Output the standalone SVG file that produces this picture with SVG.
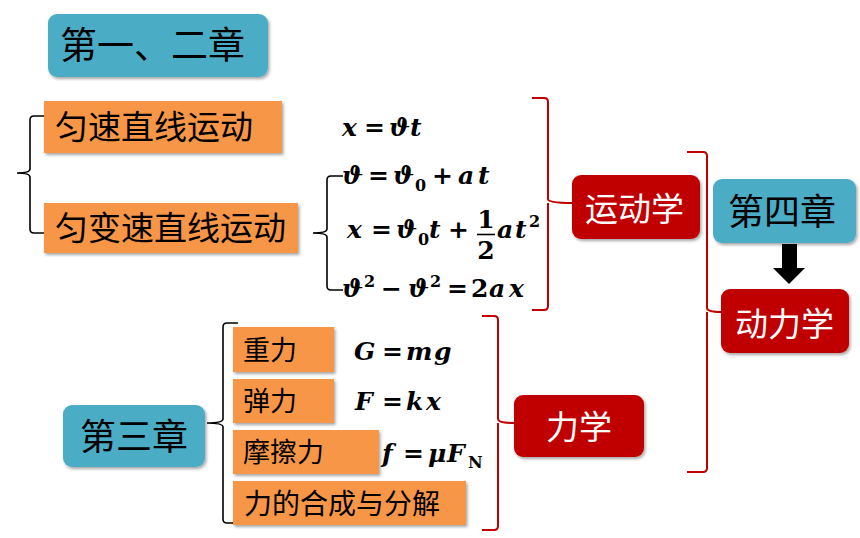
<svg xmlns="http://www.w3.org/2000/svg" width="860" height="538" viewBox="0 0 860 538">
<defs>
<filter id="sh" x="-10%" y="-10%" width="130%" height="140%">
<feDropShadow dx="1.5" dy="2" stdDeviation="1.8" flood-color="#000" flood-opacity="0.35"/>
</filter>
</defs>
<style>
.teal{fill:#4BACC6;filter:url(#sh)}
.org{fill:#F79646;filter:url(#sh)}
.red{fill:#C00000;filter:url(#sh)}
.cjk{font-family:"Noto Sans CJK SC","Noto Sans CJK JP",sans-serif;fill:#000}
.w{fill:#fff}
.m{font-family:"DejaVu Serif","Liberation Serif",serif;font-weight:bold;font-style:italic;font-size:25px;fill:#000}
.d{font-style:normal}
.s{font-size:16px;font-style:normal}
.bk{fill:none;stroke:#000;stroke-width:1.6}
.br{fill:none;stroke:#C00000;stroke-width:2}
</style>
<rect width="860" height="538" fill="#fff"/>

<g id="connectors">
<path class="bk" d="M44,116 H34 Q30,116 30,120 V169 Q30,173 17,173 Q30,173 30,177 V229 Q30,233 34,233 H44"/>
<path class="bk" d="M343,176 H331 Q327,176 327,180 V229 Q327,233 313,233 Q327,233 327,237 V286 Q327,290 331,290 H343"/>
<path class="br" d="M532,98 H544 Q548,98 548,102 V199 Q548,203 572,203 M548,203 Q548,203 548,207 V306 Q548,310 544,310 H532"/>
<path class="br" d="M687,152 H703 Q707,152 707,156 V308 Q707,312 721,312 M707,312 V468 Q707,472 703,472 H687"/>
<path class="br" d="M482,316 H494 Q498,316 498,320 V419 Q498,423 514,423 M498,423 V526 Q498,530 494,530 H482"/>
<path class="bk" d="M238,323 H227 Q223,323 223,327 V419 Q223,423 207,423 Q223,423 223,427 V519 Q223,523 227,523 H238"/>
<polygon points="782,244 797,244 797,268 805,268 789,284 773,268 782,268" fill="#000"/>
</g>

<g id="ch12">
<rect class="teal" x="48" y="14" width="220" height="63" rx="9"/>
<text class="cjk" x="60" y="59" font-size="37">第一、二章</text>
</g>
<g id="uniform">
<rect class="org" x="44" y="101" width="238" height="52"/>
<text class="cjk" x="55" y="138.5" font-size="33">匀速直线运动</text>
</g>
<g id="accel">
<rect class="org" x="44" y="203" width="254" height="50"/>
<text class="cjk" x="55" y="240" font-size="33">匀变速直线运动</text>
</g>

<g id="f1">
<text class="m" y="136"><tspan x="342">x</tspan><tspan x="364">=</tspan><tspan x="389">ϑ</tspan><tspan x="410">t</tspan></text>
</g>
<g id="f2">
<text class="m" y="184"><tspan x="342">ϑ</tspan><tspan x="368">=</tspan><tspan x="393">ϑ</tspan><tspan class="s" x="415" y="191">0</tspan><tspan x="432" y="184">+</tspan><tspan x="458">a</tspan><tspan x="478">t</tspan></text>
</g>
<g id="f3">
<text class="m" y="238"><tspan x="347">x</tspan><tspan x="371">=</tspan><tspan x="396">ϑ</tspan><tspan class="s" x="418" y="245">0</tspan><tspan x="429" y="238">t</tspan><tspan x="448">+</tspan></text>
<text class="m d" x="486" y="228" font-size="22" text-anchor="middle">1</text>
<line x1="477" y1="234.5" x2="495" y2="234.5" stroke="#000" stroke-width="1.6"/>
<text class="m d" x="486" y="259" font-size="22" text-anchor="middle">2</text>
<text class="m" y="238"><tspan x="497">a</tspan><tspan x="515">t</tspan><tspan class="s" x="529" y="227">2</tspan></text>
</g>
<g id="f4">
<text class="m" y="297"><tspan x="342">ϑ</tspan><tspan class="s" x="364" y="287">2</tspan><tspan x="381" y="297">−</tspan><tspan x="408">ϑ</tspan><tspan class="s" x="430" y="287">2</tspan><tspan x="447" y="297">=</tspan><tspan class="d" x="471">2</tspan><tspan x="489">a</tspan><tspan x="509">x</tspan></text>
</g>

<g id="kinematics">
<rect class="red" x="572" y="175" width="128" height="64" rx="9"/>
<text class="cjk w" x="585" y="221" font-size="33">运动学</text>
</g>
<g id="ch4">
<rect class="teal" x="713" y="179" width="143" height="64" rx="9"/>
<text class="cjk" x="728" y="225" font-size="36">第四章</text>
</g>
<g id="dynamics">
<rect class="red" x="721" y="289" width="128" height="64" rx="9"/>
<text class="cjk w" x="735" y="335.5" font-size="33">动力学</text>
</g>
<g id="mechanics">
<rect class="red" x="514" y="395" width="130" height="62" rx="9"/>
<text class="cjk w" x="546" y="439" font-size="33">力学</text>
</g>

<g id="ch3">
<rect class="teal" x="63" y="405" width="142" height="62" rx="9"/>
<text class="cjk" x="80" y="450" font-size="36">第三章</text>
</g>
<g id="gravity">
<rect class="org" x="233" y="327" width="101" height="45"/>
<text class="cjk" x="243" y="360" font-size="27">重力</text>
</g>
<g id="elastic">
<rect class="org" x="233" y="379" width="101" height="44"/>
<text class="cjk" x="243" y="411" font-size="27">弹力</text>
</g>
<g id="friction">
<rect class="org" x="233" y="430" width="146" height="44"/>
<text class="cjk" x="243" y="462" font-size="27">摩擦力</text>
</g>
<g id="compose">
<rect class="org" x="233" y="481" width="233" height="44"/>
<text class="cjk" x="244" y="514" font-size="28">力的合成与分解</text>
</g>

<g id="fg">
<text class="m" y="360"><tspan x="354">G</tspan><tspan x="382">=</tspan><tspan x="406">m</tspan><tspan x="434">g</tspan></text>
</g>
<g id="fk">
<text class="m" y="410"><tspan x="355">F</tspan><tspan x="382">=</tspan><tspan x="406">k</tspan><tspan x="426">x</tspan></text>
</g>
<g id="ff">
<text class="m" y="462"><tspan x="382">f</tspan><tspan x="403">=</tspan><tspan x="428">μ</tspan><tspan x="447">F</tspan><tspan class="s" x="468" y="468" font-style="italic">N</tspan></text>
</g>
</svg>
